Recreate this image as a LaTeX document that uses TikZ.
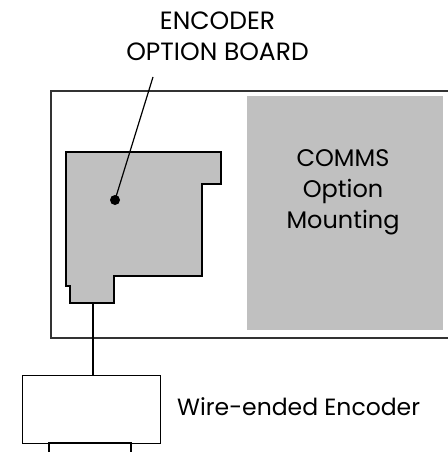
\documentclass[tikz,border=0pt]{standalone}
\usepackage{fontspec}
\setmainfont{Poppins}
\definecolor{boardgray}{HTML}{C0C0C0}
\definecolor{framegray}{HTML}{333333}
\begin{document}
\begin{tikzpicture}[x=1pt,y=-1pt,
  lbl/.style={font=\fontsize{24}{30.7}\selectfont, align=center, inner sep=0pt},
  ttl/.style={font=\fontsize{25}{31}\selectfont, align=center, inner sep=0pt},
  side/.style={font=\fontsize{23.5}{28}\selectfont, inner sep=0pt},
  frame/.style={draw=framegray, line width=2pt},
  board/.style={draw=black, fill=boardgray, line width=1.2pt},
  wire/.style={draw=black, line width=1.2pt}]
\useasboundingbox (0,0) rectangle (447,452);
% outer frame (right side runs off the picture)
\coordinate (frTR) at (448,91);
\coordinate (frTL) at (51,91);
\coordinate (frBL) at (51,338);
\coordinate (frBR) at (448,338);
\draw[frame] (frTR) -- (frTL) -- (frBL) -- (frBR);
% comms mounting
\node[fill=boardgray, minimum width=196pt, minimum height=234pt, inner sep=0pt, anchor=north west] (comms) at (247,96) {};
\node[lbl, anchor=base] (commstxt) at (343,228) {COMMS\\Option\\Mounting};
% encoder option board
\path[board] (66,152) -- (221,152) -- (221,184) -- (202,184) -- (202,276) -- (114,276) -- (114,303) -- (70,303) -- (70,286) -- (66,286) -- cycle;
\coordinate (boardbot) at (93,303);
\coordinate (dot) at (115,200);
\fill (dot) circle (5pt);
% title
\node[ttl, anchor=base] (title) at (217.5,60) {ENCODER\\OPTION BOARD};
\coordinate (leader) at (153,77);
\draw[wire] (dot) -- (leader);
% encoder
\node[draw=black, line width=1.2pt, minimum width=138pt, minimum height=68pt, inner sep=0pt, anchor=north west] (enc) at (22,375) {};
\coordinate (shaftL) at (49,453);
\coordinate (shaftR) at (131,453);
\draw[line width=1.2pt] (shaftL) -- (49,443) -- (131,443) -- (shaftR);
\draw[line width=2pt] (49,443) -- (131,443);
\draw[wire] (boardbot) -- (enc.north -| boardbot);
\node[side, anchor=base west] (enctxt) at (177,415) {Wire-ended Encoder};
\end{tikzpicture}
\end{document}
